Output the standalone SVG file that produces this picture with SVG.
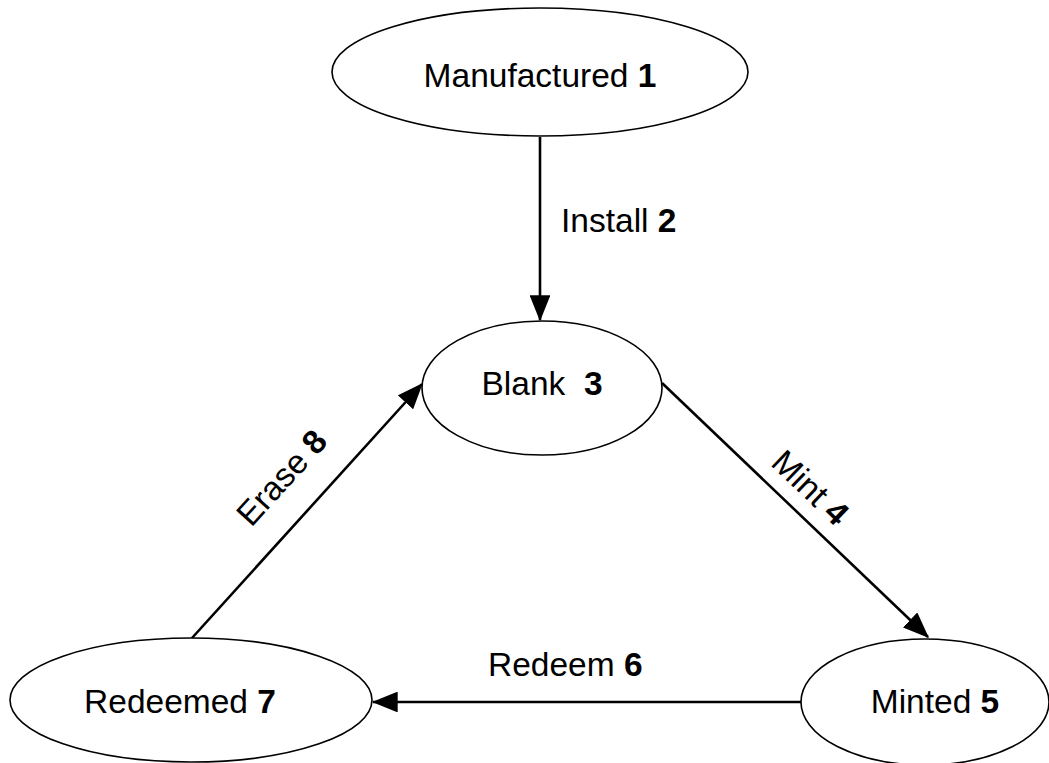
<svg xmlns="http://www.w3.org/2000/svg" width="1049" height="763" viewBox="0 0 1049 763">
<style>
.n{fill:#fff;stroke:#000;stroke-width:1.6}
.t{font-family:"Liberation Sans",Arial,sans-serif;font-size:33.5px;fill:#000}
.b{font-weight:bold}
.c{stroke:#000;stroke-width:2.6;fill:none;marker-end:url(#ah)}
</style>
<defs>
<marker id="ah" markerWidth="10" markerHeight="8" refX="9.5" refY="4" orient="auto" markerUnits="strokeWidth">
<path d="M0,0 L10,4 L0,8 Z" fill="#000"/>
</marker>
</defs>
<rect width="1049" height="763" fill="#fff"/>
<g id="connectors">
<line class="c" x1="540" y1="137" x2="540" y2="320"/>
<line class="c" x1="662" y1="383" x2="928" y2="637"/>
<line class="c" x1="801" y1="702" x2="373" y2="702"/>
<line class="c" x1="192" y1="638" x2="422" y2="384"/>
<text class="t" x="561" y="232">Install <tspan class="b">2</tspan></text>
<text class="t" x="488" y="676">Redeem <tspan class="b">6</tspan></text>
<text class="t" text-anchor="middle" transform="translate(810,488) rotate(43.7)" y="11">Mint <tspan class="b">4</tspan></text>
<text class="t" text-anchor="middle" transform="translate(282,478) rotate(-47.7)" y="11">Erase <tspan class="b">8</tspan></text>
</g>
<g id="manufactured">
<ellipse class="n" cx="540" cy="72" rx="208" ry="64"/>
<text class="t" x="540" y="87" text-anchor="middle">Manufactured <tspan class="b">1</tspan></text>
</g>
<g id="blank">
<ellipse class="n" cx="542" cy="388" rx="120" ry="67"/>
<text class="t" x="542" y="395" text-anchor="middle" xml:space="preserve">Blank  <tspan class="b">3</tspan></text>
</g>
<g id="minted">
<ellipse class="n" cx="925" cy="702" rx="124" ry="63"/>
<text class="t" x="935" y="713" text-anchor="middle">Minted <tspan class="b">5</tspan></text>
</g>
<g id="redeemed">
<ellipse class="n" cx="191" cy="700" rx="181" ry="62"/>
<text class="t" x="180" y="713" text-anchor="middle">Redeemed <tspan class="b">7</tspan></text>
</g>
</svg>
